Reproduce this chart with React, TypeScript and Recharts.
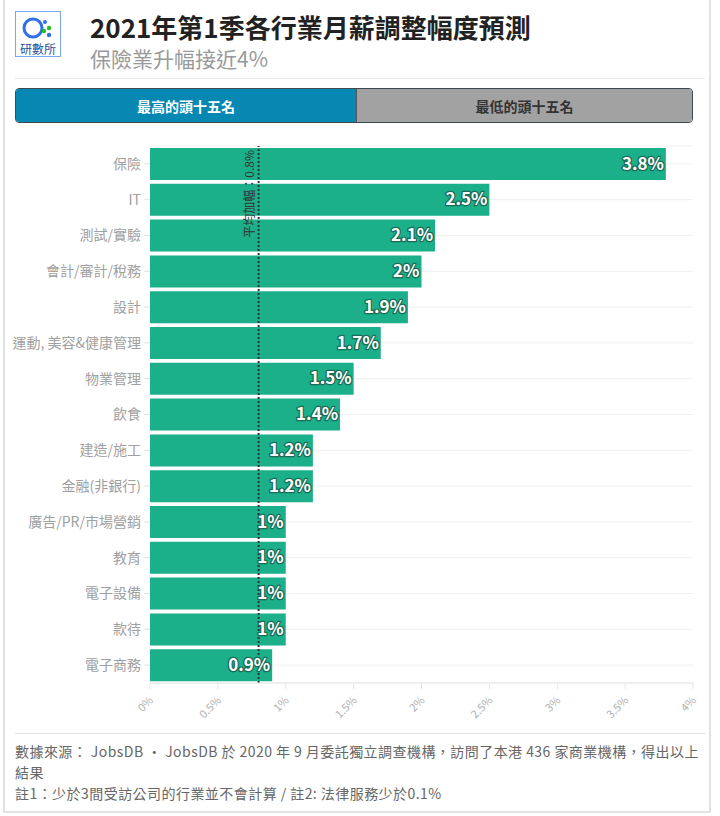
import React from "react";
import { Bar, BarChart, CartesianGrid, LabelList, ReferenceLine, XAxis, YAxis } from "recharts";

const industries = [
  "保險",
  "IT",
  "測試/實驗",
  "會計/審計/稅務",
  "設計",
  "運動, 美容&健康管理",
  "物業管理",
  "飲食",
  "建造/施工",
  "金融(非銀行)",
  "廣告/PR/市場營銷",
  "教育",
  "電子設備",
  "款待",
  "電子商務",
];
const raises = [3.8, 2.5, 2.1, 2, 1.9, 1.7, 1.5, 1.4, 1.2, 1.2, 1, 1, 1, 1, 0.9];
const xTicks = [0, 0.5, 1, 1.5, 2, 2.5, 3, 3.5, 4];
const averageRaise = 0.8;

const FONT = '"Noto Sans CJK TC", "Noto Sans", sans-serif';
const GREEN = "#1bb08a";

const chartData = industries.map((name, i) => ({ name, value: raises[i] }));

const ValueLabel = (props: any) => {
  const { x, y, width, height, value } = props;
  return (
    <text
      x={x + width - 2}
      y={y + height / 2 + 1}
      textAnchor="end"
      dominantBaseline="middle"
      fontFamily={FONT}
      fontSize={17}
      fontWeight="bold"
      fill="#fff"
      stroke="#1a6b55"
      strokeWidth={2.5}
      paintOrder="stroke"
      strokeLinejoin="round"
    >
      {`${value}%`}
    </text>
  );
};

const AvgLabel = (props: any) => {
  const { viewBox } = props;
  const x = viewBox.x - 8;
  const y = viewBox.y + 4;
  return (
    <text
      x={x}
      y={y}
      transform={`rotate(-90 ${x} ${y})`}
      textAnchor="end"
      dominantBaseline="middle"
      fontFamily={FONT}
      fontSize={12}
      fill="#333"
    >
      {`平均加幅：${averageRaise}%`}
    </text>
  );
};

const XTick = (props: any) => {
  const { x, y, payload } = props;
  return (
    <text
      x={x + 4}
      y={y + 10}
      transform={`rotate(-45 ${x + 4} ${y + 10})`}
      textAnchor="end"
      fontFamily={FONT}
      fontSize={11}
      fill="#b0b0b0"
    >
      {`${payload.value}%`}
    </text>
  );
};

export default function App() {
  return (
    <div
      style={{
        position: "absolute",
        left: 0,
        top: 0,
        width: 720,
        height: 816,
        background: "#fff",
        fontFamily: FONT,
      }}
    >
      {/* card frame */}
      <div
        style={{
          position: "absolute",
          left: 3,
          top: -2,
          width: 708,
          height: 815,
          border: "2px solid #e2e2e2",
          boxSizing: "border-box",
        }}
      />

      {/* logo */}
      <div
        style={{
          position: "absolute",
          left: 15,
          top: 11,
          width: 46,
          height: 46,
          border: "1px solid #7aa6f0",
          boxSizing: "border-box",
          background: "#fff",
        }}
      >
        <svg width={44} height={44} style={{ position: "absolute", left: 0, top: 0 }}>
          <circle cx={17} cy={16} r={9} fill="none" stroke="#2f6fe8" strokeWidth={3} />
          <circle cx={29} cy={10} r={2} fill="#2f6fe8" />
          <circle cx={33} cy={16} r={2.2} fill="#20c020" />
          <circle cx={28} cy={19} r={2.2} fill="#20c020" />
          <circle cx={33} cy={23} r={2.2} fill="#2f6fe8" />
        </svg>
        <div
          style={{
            position: "absolute",
            left: 0,
            top: 28,
            width: 44,
            textAlign: "center",
            fontSize: 12,
            color: "#1d4f9e",
          }}
        >
          研數所
        </div>
      </div>

      {/* title */}
      <div
        style={{
          position: "absolute",
          left: 90,
          top: 11,
          fontSize: 26,
          fontWeight: "bold",
          color: "#222",
          lineHeight: "32px",
        }}
      >
        2021年第1季各行業月薪調整幅度預測
      </div>
      <div
        style={{
          position: "absolute",
          left: 90,
          top: 45,
          fontSize: 21,
          color: "#999",
          lineHeight: "26px",
        }}
      >
        保險業升幅接近4%
      </div>
      <div style={{ position: "absolute", left: 15, top: 78, width: 690, height: 1, background: "#e6e6e6" }} />

      {/* tabs */}
      <div
        style={{
          position: "absolute",
          left: 15,
          top: 88,
          width: 678,
          height: 35,
          border: "1.5px solid #3c4a50",
          borderRadius: 4,
          overflow: "hidden",
          boxSizing: "border-box",
          display: "flex",
          fontSize: 14,
          fontWeight: "bold",
        }}
      >
        <div
          style={{
            width: 340,
            background: "#0788b3",
            color: "#fff",
            display: "flex",
            alignItems: "center",
            justifyContent: "center",
            borderRight: "1px solid #555",
          }}
        >
          最高的頭十五名
        </div>
        <div
          style={{
            flex: 1,
            background: "#a2a2a2",
            color: "#333",
            display: "flex",
            alignItems: "center",
            justifyContent: "center",
          }}
        >
          最低的頭十五名
        </div>
      </div>

      {/* chart */}
      <div style={{ position: "absolute", left: 0, top: 140 }}>
        <BarChart
          width={720}
          height={600}
          data={chartData}
          layout="vertical"
          margin={{ top: 6, right: 27, bottom: 0, left: 0 }}
          barSize={32}
        >
          <CartesianGrid horizontal vertical={false} stroke="#efefef" />
          <XAxis
            type="number"
            domain={[0, 4]}
            ticks={xTicks}
            interval={0}
            height={57}
            axisLine={{ stroke: "#e6e6e6" }}
            tickLine={{ stroke: "#e6e6e6" }}
            tickSize={6}
            tick={<XTick />}
          />
          <YAxis
            type="category"
            dataKey="name"
            width={150}
            axisLine={false}
            tickLine={{ stroke: "#e2e2e2" }}
            tickSize={6}
            tickMargin={3}
            tick={{ fontFamily: FONT, fontSize: 14, fill: "#a0a0a0" }}
            interval={0}
          />
          <Bar dataKey="value" fill={GREEN} isAnimationActive={false}>
            <LabelList dataKey="value" content={<ValueLabel />} />
          </Bar>
          <ReferenceLine
            x={averageRaise}
            stroke="#333"
            strokeWidth={2}
            strokeDasharray="2 2"
            label={<AvgLabel />}
            ifOverflow="extendDomain"
          />
        </BarChart>
      </div>

      {/* footer */}
      <div style={{ position: "absolute", left: 15, top: 733, width: 690, height: 1, background: "#e0e0e0" }} />
      <div
        style={{
          position: "absolute",
          left: 15,
          top: 741,
          width: 690,
          fontSize: 14,
          color: "#666",
          lineHeight: "21px",
          letterSpacing: 0.45,
        }}
      >
        <div>數據來源： JobsDB • JobsDB 於 2020 年 9 月委託獨立調查機構，訪問了本港 436 家商業機構，得出以上結果</div>
        <div>註1：少於3間受訪公司的行業並不會計算 / 註2: 法律服務少於0.1%</div>
      </div>
    </div>
  );
}
